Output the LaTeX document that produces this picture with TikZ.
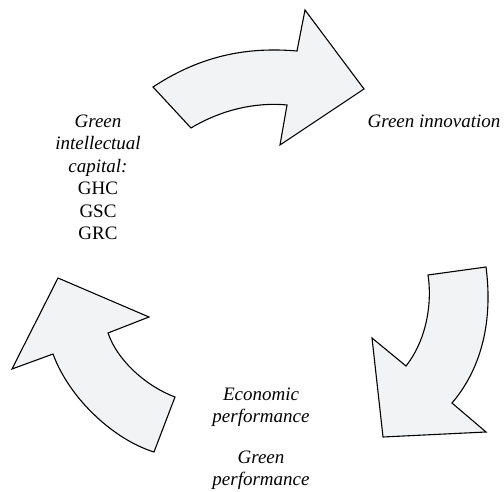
\documentclass[tikz,border=0pt]{standalone}
\usepackage{fontspec}
\setmainfont{Liberation Serif}
\definecolor{arrowfill}{RGB}{242,243,245}

\begin{document}
\begin{tikzpicture}[x=1pt, y=-1pt, line join=miter,
    cyc/.style={draw=black, fill=arrowfill, line width=1.1pt},
    lab/.style={font=\fontsize{19}{22.5}\selectfont, align=center, anchor=base, inner sep=0pt}]
    \useasboundingbox (0,0) rectangle (504,492);
    % top arrow
    \draw[cyc] (153,87) .. controls (203,54) and (250,47) .. (297,51)
        -- (305,10) -- (364,89) -- (280,145) -- (287,105)
        .. controls (255,102) and (221,110) .. (191,128) -- cycle;
    % right arrow
    \draw[cyc] (486,267) .. controls (493,320) and (482,368) .. (452,403)
        -- (486,432) -- (383,437) -- (372,338) -- (406,366)
        .. controls (428,338) and (432,300) .. (428,275) -- cycle;
    % left arrow
    \draw[cyc] (154,452) .. controls (115,440) and (70,400) .. (53,354)
        -- (12,369) -- (58,278) -- (149,317) -- (108,333)
        .. controls (118,362) and (148,387) .. (175,397) -- cycle;
    % labels (base = last line)
    \node[lab] (inno) at (434,128) {\textit{Green innovation}};
    \node[lab] (gic) at (98,240) {\textit{Green}\\\textit{intellectual}\\\textit{capital:}\\GHC\\GSC\\GRC};
    \node[lab, font=\fontsize{19}{21.5}\selectfont] (perf) at (261,485) {\textit{Economic}\\\textit{performance}\\[20pt]\textit{Green}\\\textit{performance}};
\end{tikzpicture}
\end{document}
